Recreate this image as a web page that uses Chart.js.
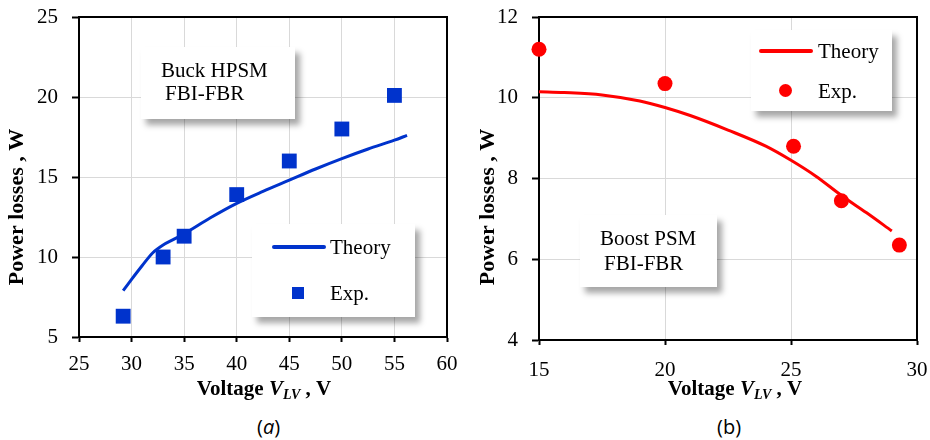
<!doctype html>
<html lang="en">
<head>
<meta charset="utf-8">
<script src="https://cdn.jsdelivr.net/npm/chart.js@4.4.1/dist/chart.umd.min.js"></script>
<style>
  body { margin: 0; width: 930px; height: 440px; overflow: hidden; position: relative; background: #fff;
         font-family: "Liberation Serif", serif; color: #000; }
  .panel { position: absolute; top: 0; width: 465px; height: 410px; }
  .box { position: absolute; background: #fff; box-shadow: 5px 6px 6px rgba(0,0,0,0.35); }
  .txt { position: absolute; font-size: 21px; line-height: 24px; white-space: nowrap; }
  .swatch { position: absolute; }
  .caption { position: absolute; top: 414px; font-family: "Open Sans", sans-serif; font-size: 20px; line-height: 26px; }
</style>
</head>
<body>

<div class="panel" style="left:0"><canvas id="buck"></canvas></div>
<div class="panel" style="left:465px"><canvas id="boost"></canvas></div>

<!-- (a) annotation + legend -->
<div class="box" style="left:141px;top:47px;width:154px;height:72px"></div>
<div class="txt" style="left:161px;top:58px">Buck HPSM</div>
<div class="txt" style="left:165px;top:81px">FBI-FBR</div>

<div class="box" style="left:252px;top:224px;width:163px;height:93px"></div>
<div class="swatch" style="left:272px;top:245px;width:54px;height:4px;background:#0033CC;border-radius:2px"></div>
<div class="txt" style="left:330px;top:235px">Theory</div>
<div class="swatch" style="left:292px;top:287px;width:12px;height:12px;background:#0033CC"></div>
<div class="txt" style="left:330px;top:281px">Exp.</div>

<!-- (b) annotation + legend -->
<div class="box" style="left:580px;top:215px;width:137px;height:72px"></div>
<div class="txt" style="left:600px;top:226px">Boost PSM</div>
<div class="txt" style="left:604px;top:251px">FBI-FBR</div>

<div class="box" style="left:751px;top:30px;width:141px;height:81px"></div>
<div class="swatch" style="left:759px;top:49px;width:54px;height:4px;background:#FF0000;border-radius:2px"></div>
<div class="txt" style="left:818px;top:39px">Theory</div>
<div class="swatch" style="left:779px;top:84px;width:13px;height:13px;background:#FF0000;border-radius:50%"></div>
<div class="txt" style="left:818px;top:79px">Exp.</div>

<div class="caption" style="left:257px">(<i>a</i>)</div>
<div class="caption" style="left:717px">(b)</div>

<script>
  // (a) Buck HPSM, FBI-FBR
  const buckTheoryV = [29.2, 30, 31, 32, 33, 34, 35, 37.5, 40, 42.5, 45, 47.5, 50, 52.5, 55, 56.2]
  const buckTheoryP = [7.9, 8.6, 9.45, 10.25, 10.75, 11.1, 11.45, 12.45, 13.35, 14.1, 14.8, 15.5, 16.15, 16.75, 17.3, 17.6]
  const buckExpV = [29.2, 33, 35, 40, 45, 50, 55]
  const buckExpP = [6.3, 10.0, 11.3, 13.9, 16.0, 18.0, 20.1]

  // (b) Boost PSM, FBI-FBR
  const boostTheoryV = [15, 16, 17.5, 19, 20, 21, 22.5, 24, 25, 26, 27, 28, 29]
  const boostTheoryP = [10.15, 10.13, 10.07, 9.92, 9.76, 9.56, 9.2, 8.8, 8.45, 8.05, 7.58, 7.15, 6.7]
  const boostExpV = [15, 20, 25.1, 27, 29.3]
  const boostExpP = [11.2, 10.35, 8.8, 7.45, 6.35]

  const yTitle = "Power losses , W"
  const xTitleParts = ["Voltage ", "V", "LV", " , V"]

  const serif = '"Liberation Serif", serif'

  function pts(xs, ys) {
    return xs.map((x, i) => ({ x: x, y: ys[i] }))
  }

  // frame on top/right plus the axis titles (x title has a subscript)
  const decor = {
    id: 'decor',
    beforeDatasetsDraw(chart, args, opts) {
      const a = chart.chartArea
      const ctx = chart.ctx
      ctx.save()
      ctx.strokeStyle = '#000'
      ctx.lineWidth = 2
      ctx.beginPath()
      ctx.moveTo(a.left, a.top)
      ctx.lineTo(a.right, a.top)
      ctx.lineTo(a.right, a.bottom)
      ctx.stroke()
      ctx.restore()
    },
    afterDraw(chart, args, opts) {
      const ctx = chart.ctx
      ctx.save()
      ctx.fillStyle = '#000'
      // y title
      ctx.translate(opts.yx, opts.yy)
      ctx.rotate(-Math.PI / 2)
      ctx.font = 'bold 22px ' + serif
      ctx.textAlign = 'center'
      ctx.textBaseline = 'middle'
      ctx.fillText(yTitle, 0, 0)
      ctx.restore()

      // x title
      const fonts = ['bold 21px ' + serif, 'italic bold 21px ' + serif, 'italic bold 14px ' + serif, 'bold 21px ' + serif]
      const dy = [0, 0, 4, 0]
      ctx.save()
      ctx.fillStyle = '#000'
      ctx.textBaseline = 'alphabetic'
      ctx.textAlign = 'left'
      let total = 0
      const w = xTitleParts.map((t, i) => { ctx.font = fonts[i]; const m = ctx.measureText(t).width; total += m; return m })
      let x = opts.xx - total / 2
      xTitleParts.forEach((t, i) => {
        ctx.font = fonts[i]
        ctx.fillText(t, x, opts.xy + dy[i])
        x += w[i]
      })
      ctx.restore()
    }
  }

  function makeChart(id, color, style, radius, theory, exp, xr, yr, pad, xh, xpad, deco) {
    return new Chart(document.getElementById(id), {
      type: 'scatter',
      data: {
        datasets: [{
          label: 'Exp.',
          data: exp,
          showLine: false,
          pointStyle: style,
          pointRadius: radius,
          pointBackgroundColor: color,
          pointBorderWidth: 0,
          clip: false,
          order: 0
        }, {
          label: 'Theory',
          data: theory,
          showLine: true,
          borderColor: color,
          borderWidth: 3,
          pointRadius: 0,
          cubicInterpolationMode: 'monotone',
          clip: false,
          order: 1
        }]
      },
      options: {
        responsive: false,
        animation: false,
        events: [],
        layout: { padding: { top: 17, right: pad, left: 0, bottom: 0 } },
        plugins: { legend: { display: false }, tooltip: { enabled: false }, decor: deco },
        scales: {
          x: {
            type: 'linear', min: xr[0], max: xr[1],
            afterFit: s => { s.height = xh; s.paddingLeft = 0; s.paddingRight = 0 },
            ticks: { stepSize: xr[2], color: '#000', padding: xpad, font: { family: serif, size: 21 } },
            grid: { color: '#d9d9d9', lineWidth: 1, tickColor: '#000', tickLength: 5, tickWidth: 2 },
            border: { display: true, color: '#000', width: 2 }
          },
          y: {
            type: 'linear', min: yr[0], max: yr[1],
            afterFit: s => { s.width = yr[3]; s.paddingTop = 0; s.paddingBottom = 0 },
            ticks: { stepSize: yr[2], color: '#000', padding: 14, font: { family: serif, size: 21 } },
            grid: { color: '#d9d9d9', lineWidth: 1, tickColor: '#000', tickLength: 7, tickWidth: 2 },
            border: { display: true, color: '#000', width: 2 }
          }
        }
      },
      plugins: [decor]
    })
  }

  for (const c of ['buck', 'boost']) {
    const el = document.getElementById(c)
    el.width = 465
    el.height = 410
  }

  makeChart('buck', '#0033CC', 'rect', 10.5,
    pts(buckTheoryV, buckTheoryP), pts(buckExpV, buckExpP),
    [25, 60, 5], [5, 25, 5, 79], 18, 73, 10,
    { yx: 17, yy: 207, xx: 264, xy: 395 })

  makeChart('boost', '#FF0000', 'circle', 7.5,
    pts(boostTheoryV, boostTheoryP), pts(boostExpV, boostExpP),
    [15, 30, 5], [4, 12, 2, 74], 13, 70, 13,
    { yx: 23.5, yy: 207, xx: 270, xy: 395 })
</script>
</body>
</html>
